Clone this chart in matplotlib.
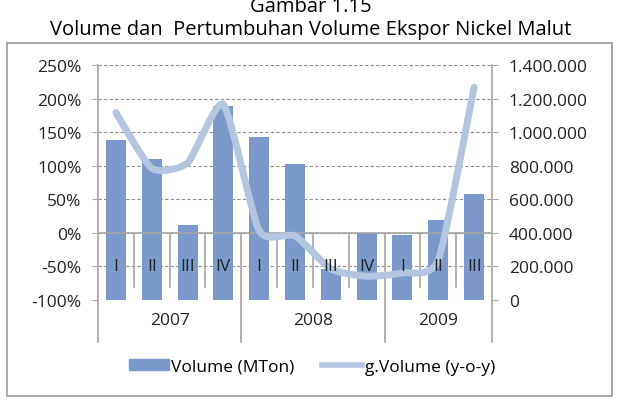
"""
Gambar 1.15 - Volume dan Pertumbuhan Volume Ekspor Nickel Malut
Batang = volume (sumbu kanan), garis = pertumbuhan y-o-y (sumbu kiri).
"""

import matplotlib
matplotlib.use("Agg")
import matplotlib.pyplot as plt
from matplotlib.path import Path
from matplotlib.patches import PathPatch, Rectangle
from matplotlib.lines import Line2D

plt.rcParams["font.family"] = ["Open Sans", "DejaVu Sans"]

# data
quarters = ["I", "II", "III", "IV", "I", "II", "III", "IV", "I", "II", "III"]
years = ["2007", "2008", "2009"]
year_len = [4, 4, 3]
volume = [955000, 838000, 448000, 1156000, 970000, 810000, 185000, 396000, 388000, 478000, 629000]
growth = [179, 96, 104, 191, 3, -5, -54, -65, -60, -41, 217]

left_ticks = [-100, -50, 0, 50, 100, 150, 200, 250]
right_ticks = [0, 200000, 400000, 600000, 800000, 1000000, 1200000, 1400000]

BAR_COLOR = "#7b9acb"
LINE_COLOR = "#b4c5df"
GRID_COLOR = "#8c8c8c"
AXIS_COLOR = "#a6a6a6"
TEXT_COLOR = "#222222"


def smooth_path(xs, ys, k=10):
    """garis dihaluskan ala Excel: kurva Bezier kubik melalui titik-titik data"""
    pts = list(zip(xs, ys))
    verts = [pts[0]]
    codes = [Path.MOVETO]
    n = len(pts)
    for i in range(n - 1):
        p0 = pts[i - 1] if i > 0 else pts[i]
        p1 = pts[i]
        p2 = pts[i + 1]
        p3 = pts[i + 2] if i + 2 < n else pts[i + 1]
        c1 = (p1[0] + (p2[0] - p0[0]) / k, p1[1] + (p2[1] - p0[1]) / k)
        c2 = (p2[0] - (p3[0] - p1[0]) / k, p2[1] - (p3[1] - p1[1]) / k)
        verts += [c1, c2, p2]
        codes += [Path.CURVE4] * 3
    return Path(verts, codes)


fig = plt.figure(figsize=(6.21, 4.02), dpi=100)
fig.patches.append(Rectangle((7 / 621, 1 - 397 / 402), 605 / 621, 353 / 402,
                             transform=fig.transFigure, fill=False,
                             edgecolor="#9a9a9a", linewidth=1.2))

fig.text(0.5, 1 - 12 / 402, "Gambar 1.15", ha="center", va="baseline", fontsize=14.5)
fig.text(0.5, 1 - 30 / 402, "Volume dan  Pertumbuhan Volume Ekspor Nickel Malut",
         ha="center", va="center", fontsize=14.5)

# sumbu kanan (volume) di bawah, sumbu kiri (pertumbuhan) di atas
rect = [98 / 621, 1 - 300.7 / 402, 394 / 621, 234.7 / 402]
ax2 = fig.add_axes(rect)
ax = fig.add_axes(rect, sharex=ax2)
ax.patch.set_visible(False)

x = list(range(len(quarters)))

ax2.bar(x, volume, width=0.56, color=BAR_COLOR, zorder=2)
ax2.set_ylim(0, 1400000)
ax2.set_yticks(right_ticks)
ax2.set_yticklabels([f"{v:,}".replace(",", ".") for v in right_ticks])
ax2.yaxis.tick_right()
ax2.grid(axis="y", color=GRID_COLOR, linestyle=(0, (3, 2)), linewidth=0.8, zorder=0)
ax2.set_axisbelow(True)

ax.set_xlim(-0.5, len(quarters) - 0.5)
ax.set_ylim(-100, 250)
ax.set_yticks(left_ticks)
ax.set_yticklabels([f"{v}%" for v in left_ticks])
ax.add_patch(PathPatch(smooth_path(x, growth), fill=False, edgecolor=LINE_COLOR,
                       linewidth=5, capstyle="round", joinstyle="round", zorder=5))

for a in (ax, ax2):
    a.set_xticks([])
    for s in a.spines.values():
        s.set_visible(False)
    a.tick_params(axis="y", length=4, color=AXIS_COLOR, labelsize=12.5, pad=8,
                  labelcolor=TEXT_COLOR)

# garis sumbu kiri/kanan dan sumbu kategori di 0%
ax.axhline(0, color=AXIS_COLOR, linewidth=1.2, zorder=1)
ax.plot([-0.5, -0.5], [250, -163], color=AXIS_COLOR, linewidth=1.2, clip_on=False, zorder=1)
ax.plot([len(quarters) - 0.5] * 2, [250, -163], color=AXIS_COLOR, linewidth=1.2,
        clip_on=False, zorder=1)

# pemisah kuartal dan tahun
bounds = [-0.5]
for n in year_len:
    bounds.append(bounds[-1] + n)
for k in range(1, len(quarters)):
    xb = k - 0.5
    y_end = -163 if xb in bounds else -81
    ax.plot([xb, xb], [0, y_end], color=AXIS_COLOR, linewidth=1.2, clip_on=False, zorder=1)

for xi, q in zip(x, quarters):
    ax.text(xi, -50, q, ha="center", va="center", fontsize=12.5, color=TEXT_COLOR, zorder=6)

for i, yr in enumerate(years):
    xc = (bounds[i] + bounds[i + 1]) / 2
    ax.text(xc, -130, yr, ha="center", va="center", fontsize=12.5, color=TEXT_COLOR,
            clip_on=False)

handles = [Rectangle((0, 0), 1, 1, color=BAR_COLOR),
           Line2D([], [], color=LINE_COLOR, linewidth=4)]
fig.legend(handles, ["Volume (MTon)", "g.Volume (y-o-y)"], loc="center",
           bbox_to_anchor=(312 / 621, 1 - 368 / 402), ncol=2, frameon=False,
           fontsize=12.5, handlelength=2.3, handleheight=0.6, handletextpad=0.15,
           columnspacing=1.6)

fig.savefig("out.png", dpi=100)
